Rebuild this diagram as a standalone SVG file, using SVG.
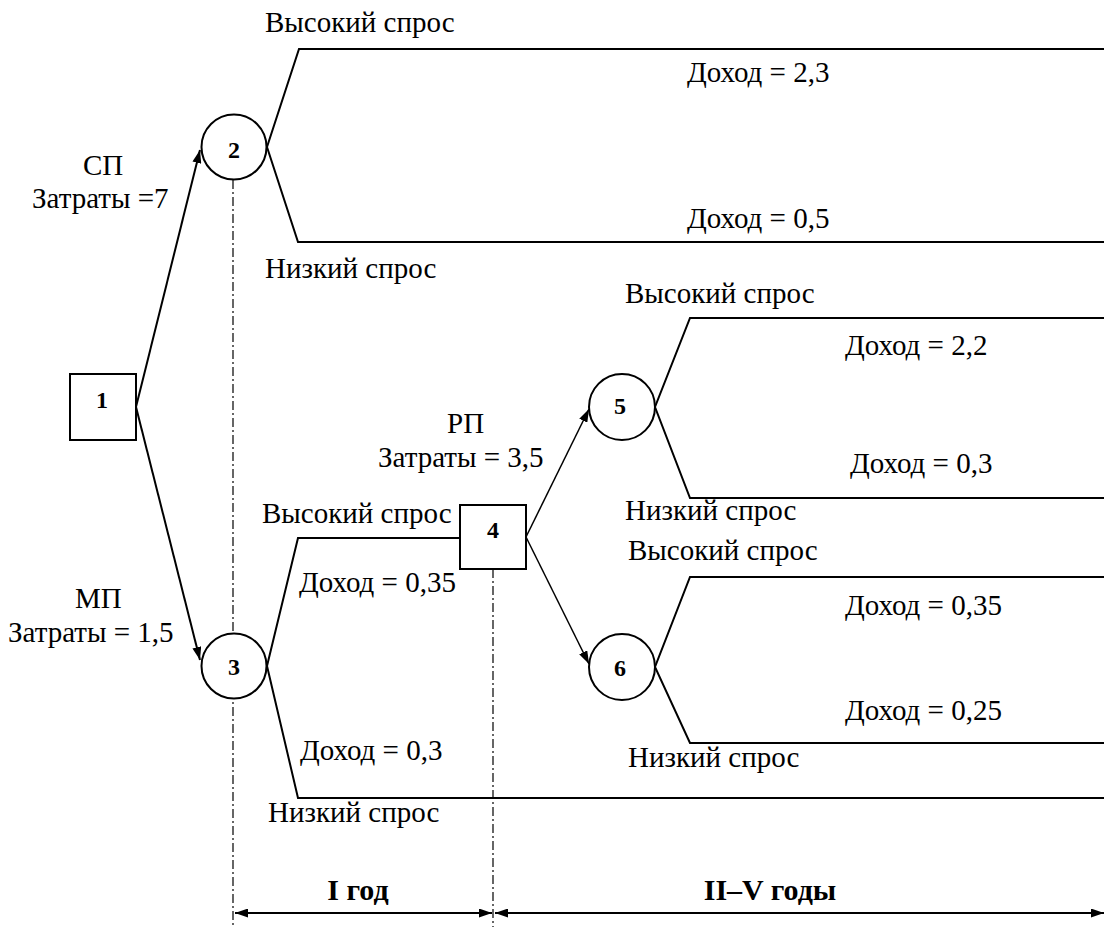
<svg xmlns="http://www.w3.org/2000/svg" width="1104" height="927" viewBox="0 0 1104 927">
<defs>
<style>
.t{font-family:"Liberation Serif","Times New Roman",serif;font-size:29px;fill:#000}
.b{font-family:"Liberation Serif","Times New Roman",serif;font-size:24px;font-weight:bold;fill:#000;text-anchor:middle}
.bl{font-family:"Liberation Serif","Times New Roman",serif;font-size:30px;font-weight:bold;fill:#000;text-anchor:middle}
.ln{fill:none;stroke:#000;stroke-width:2}
.thin{fill:none;stroke:#000;stroke-width:1.5}
.dd{fill:none;stroke:#000;stroke-width:1.2;stroke-dasharray:9 3 2 3}
.node{fill:#fff;stroke:#000;stroke-width:2}
</style>
<marker id="ah" viewBox="0 0 13 9" refX="13" refY="4.5" markerWidth="13" markerHeight="9" markerUnits="userSpaceOnUse" orient="auto">
<path d="M0,0 L13,4.5 L0,9 Z" fill="#000"/>
</marker>
<marker id="ahs" viewBox="0 0 13 9" refX="13" refY="4.5" markerWidth="13" markerHeight="9" markerUnits="userSpaceOnUse" orient="auto-start-reverse">
<path d="M0,0 L13,4.5 L0,9 Z" fill="#000"/>
</marker>
</defs>
<rect width="1104" height="927" fill="#fff"/>
<g id="guides">
<line class="dd" x1="233" y1="180" x2="233" y2="927"/>
<line class="dd" x1="493" y1="569" x2="493" y2="927"/>
</g>
<g id="connectors">
<line class="ln" x1="136" y1="407" x2="200" y2="150" marker-end="url(#ah)"/>
<line class="ln" x1="136" y1="407" x2="200" y2="660" marker-end="url(#ah)"/>
<polyline class="ln" points="1104,49 299,49 267,147 298,242 1104,242"/>
<polyline class="ln" points="460,538 298,538 267,666 298,798 1104,798"/>
<line class="thin" x1="526" y1="537" x2="589" y2="409" marker-end="url(#ah)"/>
<line class="thin" x1="526" y1="537" x2="589" y2="664" marker-end="url(#ah)"/>
<polyline class="ln" points="1104,318 690,318 655,407 690,498 1104,498"/>
<polyline class="ln" points="1104,577 690,577 655,667 690,743 1104,743"/>
<line class="ln" x1="235" y1="913" x2="492" y2="913" marker-start="url(#ahs)" marker-end="url(#ahs)"/>
<line class="ln" x1="495" y1="913" x2="1104" y2="913" marker-start="url(#ahs)" marker-end="url(#ahs)"/>
</g>
<g id="n1"><rect class="node" x="70" y="374" width="66" height="66"/><text class="b" x="102" y="408">1</text></g>
<g id="n2"><circle class="node" cx="234" cy="147" r="32.5"/><text class="b" x="234" y="158">2</text></g>
<g id="n3"><circle class="node" cx="234" cy="666" r="32.5"/><text class="b" x="234" y="675">3</text></g>
<g id="n4"><rect class="node" x="460" y="505" width="66" height="64"/><text class="b" x="493" y="538">4</text></g>
<g id="n5"><circle class="node" cx="622" cy="407" r="33"/><text class="b" x="620" y="414">5</text></g>
<g id="n6"><circle class="node" cx="622" cy="667" r="33"/><text class="b" x="620" y="676">6</text></g>
<g id="labels">
<text class="t" x="265" y="32">Высокий спрос</text>
<text class="t" x="687" y="82">Доход = 2,3</text>
<text class="t" x="83" y="175">СП</text>
<text class="t" x="32" y="208">Затраты =7</text>
<text class="t" x="687" y="228">Доход = 0,5</text>
<text class="t" x="265" y="278">Низкий спрос</text>
<text class="t" x="625" y="303">Высокий спрос</text>
<text class="t" x="845" y="355">Доход = 2,2</text>
<text class="t" x="447" y="433">РП</text>
<text class="t" x="378" y="467">Затраты = 3,5</text>
<text class="t" x="850" y="473">Доход = 0,3</text>
<text class="t" x="625" y="520">Низкий спрос</text>
<text class="t" x="262" y="523">Высокий спрос</text>
<text class="t" x="628" y="560">Высокий спрос</text>
<text class="t" x="299" y="592">Доход = 0,35</text>
<text class="t" x="845" y="615">Доход = 0,35</text>
<text class="t" x="75" y="608">МП</text>
<text class="t" x="8" y="642">Затраты = 1,5</text>
<text class="t" x="845" y="720">Доход = 0,25</text>
<text class="t" x="300" y="760">Доход = 0,3</text>
<text class="t" x="628" y="767">Низкий спрос</text>
<text class="t" x="268" y="822">Низкий спрос</text>
<text class="bl" x="358" y="900">I год</text>
<text class="bl" x="770" y="900">II–V годы</text>
</g>
</svg>
